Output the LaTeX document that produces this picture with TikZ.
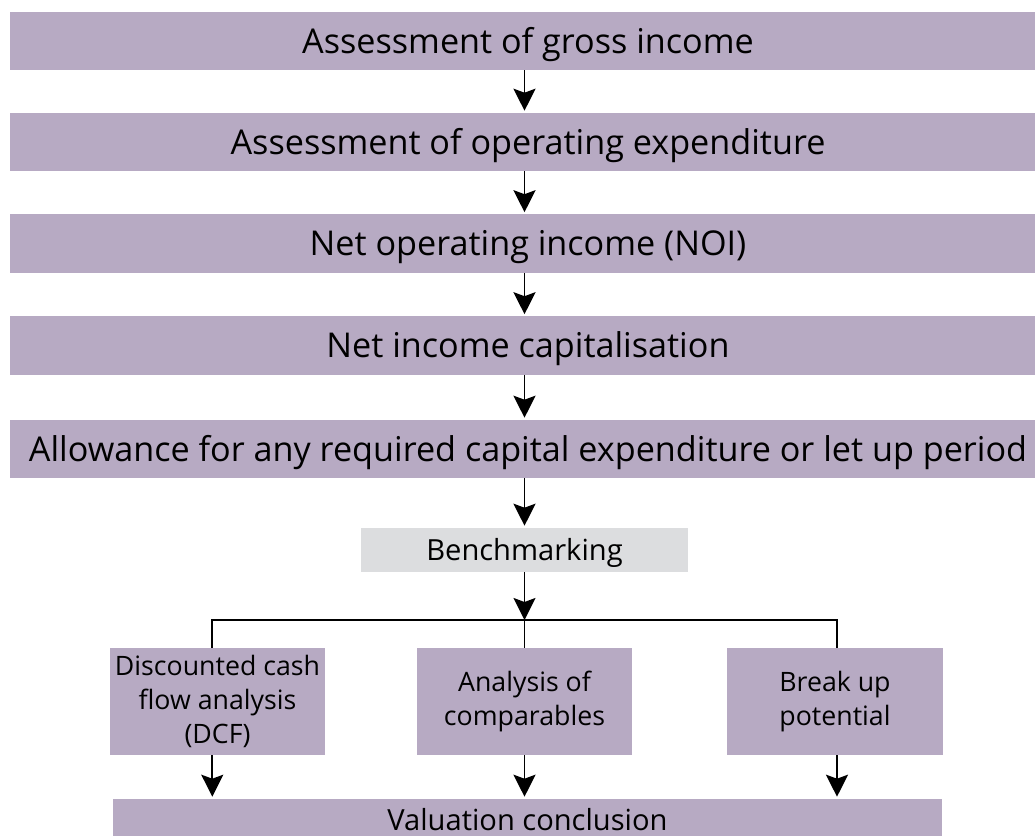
\documentclass[tikz,border=0pt]{standalone}
\usepackage{fontspec}
\setmainfont{Open Sans}
\usetikzlibrary{arrows.meta, positioning}
\definecolor{mylilac}{RGB}{183, 170, 195}
\definecolor{mylightgray}{RGB}{220, 221, 223}

\tikzset{
  stagebox/.style={fill=mylilac, inner sep=0pt, minimum width=25.9cm, minimum height=1.45cm, text height=17.4pt, text depth=0pt, font=\fontsize{24.3}{28}\selectfont},
  benchbox/.style={fill=mylightgray, inner sep=0pt, minimum width=8.175cm, minimum height=1.1cm, text height=14.8pt, text depth=0pt, font=\fontsize{20.7}{25}\selectfont},
  methodbox/.style={fill=mylilac, inner sep=0pt, minimum width=5.375cm, minimum height=2.675cm, align=center, font=\fontsize{19}{24}\selectfont},
  resultbox/.style={fill=mylilac, inner sep=0pt, minimum width=20.725cm, minimum height=1.05cm, text height=14.8pt, text depth=0pt, font=\fontsize{20.7}{25}\selectfont},
  flow/.style={-{Stealth[length=0.55cm, width=0.55cm, inset=0.1cm]}, line width=1.4pt, shorten >=0.05cm},
  branch/.style={line width=1.4pt}
}

\begin{document}
\begin{tikzpicture}[x=0.025cm, y=-0.025cm]
  \useasboundingbox (0,0) rectangle (1035,836);
  % Main stages
  \node[stagebox] (gross) at (528,41) {Assessment of gross income};
  \node[stagebox] (opex) at (528,142) {Assessment of operating expenditure};
  \node[stagebox] (noi) at (528,243.5) {Net operating income (NOI)};
  \node[stagebox] (cap) at (528,345.5) {Net income capitalisation};
  \node[stagebox] (allow) at (528,449) {Allowance for any required capital expenditure or let up period};
  % Benchmarking
  \node[benchbox] (bench) at (524.5,550) {Benchmarking};
  \coordinate (split) at (524.5,620);
  % Methods
  \node[methodbox] (dcf) at (217.5,701.5) {Discounted cash\\flow analysis\\(DCF)};
  \node[methodbox] (comp) at (524.5,701.5) {Analysis of\\comparables};
  \node[methodbox] (brk) at (835,701.5) {Break up\\potential};
  % Conclusion
  \node[resultbox] (concl) at (527.5,820) {Valuation conclusion};
  % Arrows
  \draw[flow] (gross.south -| bench.north) -- (opex.north -| bench.north);
  \draw[flow] (opex.south -| bench.north) -- (noi.north -| bench.north);
  \draw[flow] (noi.south -| bench.north) -- (cap.north -| bench.north);
  \draw[flow] (cap.south -| bench.north) -- (allow.north -| bench.north);
  \draw[flow] (allow.south -| bench.north) -- (bench);
  \draw[flow, shorten >=0pt] (bench) -- (split);
  \draw[branch] ([xshift=-0.13cm]dcf.north) |- (split) -| ([xshift=0.05cm]brk.north);
  \draw[branch] (split) -- (comp);
  \draw[flow] ([xshift=-0.13cm]dcf.south) -- ([xshift=-0.13cm]dcf.south |- concl.north);
  \draw[flow] (comp) -- (comp |- concl.north);
  \draw[flow] ([xshift=0.05cm]brk.south) -- ([xshift=0.05cm]brk.south |- concl.north);
\end{tikzpicture}
\end{document}
